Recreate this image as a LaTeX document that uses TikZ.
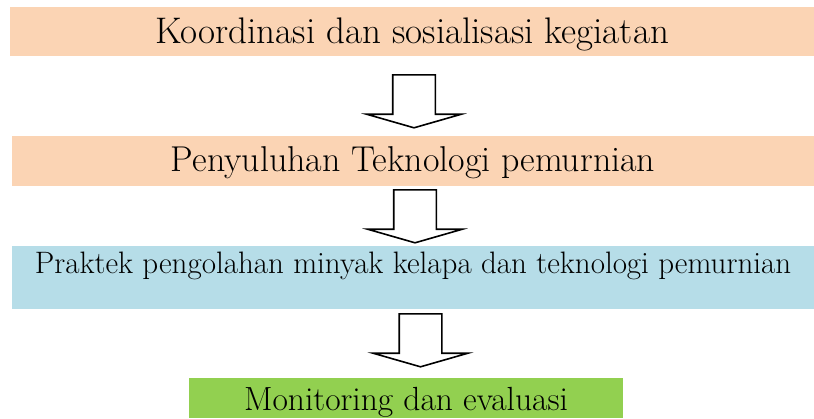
\documentclass[tikz,border=0pt]{standalone}
\usepackage{tikz}
\usetikzlibrary{shapes.arrows}

\definecolor{peach}{HTML}{FBD4B4}
\definecolor{paleblue}{HTML}{B6DDE8}
\definecolor{leafgreen}{HTML}{92D050}

\begin{document}
\begin{tikzpicture}[x=1pt, y=-1pt,
    stagebox/.style={inner sep=0pt, anchor=base},
    downarrow/.style={draw, line width=1.6pt, fill=white, single arrow, rotate=-90,
      anchor=tail, inner xsep=0pt, inner ysep=20.5pt, minimum height=53pt, minimum width=93pt,
      single arrow head extend=26pt, single arrow tip angle=148}]
      \useasboundingbox (0,0) rectangle (814,418);
      % the four stages
      \node [stagebox, fill=peach, minimum width=804pt, text height=36pt, text depth=13pt,
        font=\fontsize{37}{44}\selectfont] (koordinasi) at (412,43) {Koordinasi dan sosialisasi kegiatan};
      \node [stagebox, fill=peach, minimum width=802pt, text height=35pt, text depth=15pt,
        font=\fontsize{35.9}{42}\selectfont] (penyuluhan) at (413,171) {Penyuluhan Teknologi pemurnian};
      \node [stagebox, fill=paleblue, minimum width=802pt, text height=27pt, text depth=36pt,
        font=\fontsize{31}{37}\selectfont] (praktek) at (413,273) {Praktek pengolahan minyak kelapa dan teknologi pemurnian};
      \node [stagebox, fill=leafgreen, minimum width=434pt, text height=32pt, text depth=8pt,
        font=\fontsize{33.5}{40}\selectfont] (monev) at (406,410) {Monitoring dan evaluasi};
      % block arrows between stages
      \node [downarrow] (a1) at (414,74) {};
      \node [downarrow] (a2) at (415,189) {};
      \node [downarrow] (a3) at (420.5,313) {};
\end{tikzpicture}
\end{document}
